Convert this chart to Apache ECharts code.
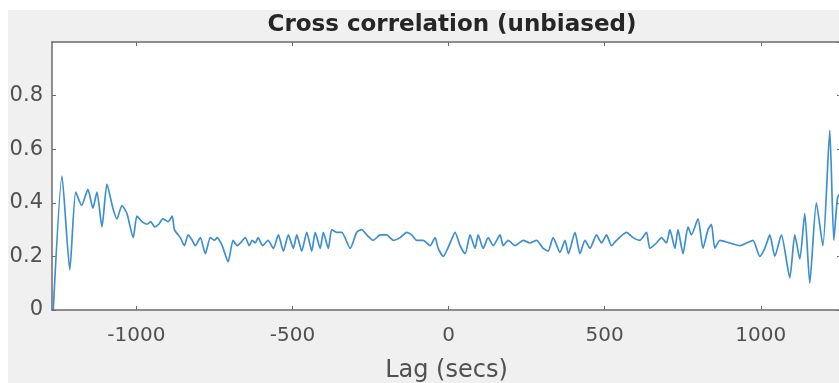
<!DOCTYPE html>
<html>
<head>
<meta charset="utf-8">
<script src="https://cdn.jsdelivr.net/npm/echarts@6/dist/echarts.min.js"></script>
<style>
  html, body { margin: 0; padding: 0; background: #ffffff; }
  #chart { width: 839px; height: 383px; }
</style>
</head>
<body>
<div id="chart"></div>
<script>
// Lag values (seconds) and the unbiased cross-correlation estimate at each lag
const lagSecs = [
  -1266, -1238, -1213, -1194, -1175, -1155, -1139, -1126, -1110, -1094,
  -1075, -1062, -1046, -1030, -1010, -998, -982, -966, -954, -941,
  -928, -915, -898, -885, -878, -859, -846, -834, -821, -811,
  -795, -779, -763, -750, -741, -725, -706, -690, -677, -667,
  -651, -638, -629, -619, -610, -595, -578, -561, -545, -529,
  -513, -497, -486, -470, -454, -438, -427, -411, -401, -385,
  -374, -358, -342, -315, -294, -278, -262, -241, -219, -198,
  -177, -155, -134, -118, -102, -81, -59, -43, -33, -17,
  5, 21, 37, 53, 69, 85, 95, 111, 127, 143,
  165, 175, 191, 213, 239, 261, 282, 303, 319, 335,
  357, 373, 384, 405, 421, 437, 453, 474, 490, 506,
  522, 538, 570, 591, 613, 634, 645, 666, 682, 698,
  709, 725, 735, 751, 767, 778, 799, 815, 831, 842,
  853, 869, 901, 933, 954, 975, 997, 1013, 1029, 1045,
  1066, 1093, 1109, 1125, 1141, 1157, 1178, 1199, 1221, 1234,
  1246, 1257
];
const xcorrValues = [
  0.00, 0.50, 0.15, 0.44, 0.39, 0.45, 0.38, 0.44, 0.31, 0.47,
  0.38, 0.34, 0.39, 0.36, 0.27, 0.35, 0.33, 0.32, 0.33, 0.31,
  0.32, 0.34, 0.33, 0.35, 0.30, 0.27, 0.24, 0.28, 0.26, 0.24,
  0.27, 0.21, 0.27, 0.26, 0.27, 0.24, 0.18, 0.26, 0.24, 0.25,
  0.27, 0.24, 0.26, 0.25, 0.27, 0.24, 0.26, 0.23, 0.28, 0.22,
  0.28, 0.23, 0.28, 0.22, 0.29, 0.22, 0.29, 0.23, 0.29, 0.23,
  0.30, 0.29, 0.29, 0.23, 0.29, 0.30, 0.28, 0.26, 0.28, 0.28,
  0.26, 0.27, 0.29, 0.28, 0.26, 0.26, 0.24, 0.27, 0.23, 0.20,
  0.25, 0.29, 0.24, 0.21, 0.28, 0.23, 0.28, 0.23, 0.27, 0.24,
  0.28, 0.24, 0.26, 0.24, 0.26, 0.25, 0.26, 0.23, 0.22, 0.27,
  0.215, 0.26, 0.21, 0.29, 0.21, 0.26, 0.23, 0.28, 0.25, 0.28,
  0.24, 0.26, 0.29, 0.27, 0.26, 0.29, 0.23, 0.25, 0.27, 0.25,
  0.30, 0.23, 0.30, 0.21, 0.31, 0.28, 0.34, 0.23, 0.30, 0.32,
  0.23, 0.26, 0.25, 0.24, 0.25, 0.26, 0.20, 0.23, 0.28, 0.20,
  0.28, 0.12, 0.28, 0.19, 0.36, 0.10, 0.40, 0.24, 0.67, 0.26,
  0.42, 0.44
];
const xTickValues = [-1000, -500, 0, 500, 1000];
const yTickLabels = ['0', '0.2', '0.4', '0.6', '0.8'];

const seriesData = lagSecs.map((lag, i) => [lag, xcorrValues[i]]);

const axisGrey = '#6b6b6b';
const textGrey = '#505050';
const font = 'DejaVu Sans';
const xMin = -1270, xMax = 1257;

const boxLine = { onZero: false, lineStyle: { color: axisGrey, width: 1.5 } };
const boxTick = { inside: true, length: 4, lineStyle: { color: axisGrey } };

const chart = echarts.init(document.getElementById('chart'), null, { renderer: 'canvas' });
chart.setOption({
  backgroundColor: '#f0f0f0',
  animation: false,
  graphic: [
    { type: 'rect', shape: { x: 0, y: 0, width: 839, height: 10 }, style: { fill: '#ffffff' }, z: -1 },
    { type: 'rect', shape: { x: 0, y: 0, width: 8, height: 383 }, style: { fill: '#ffffff' }, z: -1 }
  ],
  title: {
    text: 'Cross correlation (unbiased)',
    left: 447,
    textAlign: 'center',
    top: 9,
    textStyle: { fontFamily: font, fontWeight: 'bold', fontSize: 23, color: '#262626' }
  },
  grid: {
    left: 52, right: -2, top: 42, bottom: 73,
    outerBoundsMode: 'none',
    containLabel: false,
    show: true, backgroundColor: '#ffffff', borderWidth: 0
  },
  xAxis: [
    {
      type: 'value', min: xMin, max: xMax, position: 'bottom',
      name: 'Lag (secs)', nameLocation: 'middle', nameGap: 49,
      nameTextStyle: { fontFamily: font, fontSize: 24, color: textGrey },
      axisLine: boxLine,
      axisTick: Object.assign({ customValues: xTickValues }, boxTick),
      axisLabel: {
        customValues: xTickValues, margin: 16, fontFamily: font, fontSize: 20, color: textGrey,
        formatter: v => String(v)
      },
      splitLine: { show: false }
    },
    {
      type: 'value', min: xMin, max: xMax, position: 'top',
      axisLine: boxLine,
      axisTick: Object.assign({ customValues: xTickValues }, boxTick),
      axisLabel: { show: false },
      splitLine: { show: false }
    }
  ],
  yAxis: [
    {
      type: 'value', min: 0, max: 1, interval: 0.2, position: 'left',
      axisLine: Object.assign({ show: true }, boxLine),
      axisTick: Object.assign({ show: true }, boxTick),
      axisLabel: {
        showMaxLabel: false, margin: 9, fontFamily: font, fontSize: 21, color: textGrey,
        verticalAlign: 'middle',
        formatter: v => yTickLabels[Math.round(v / 0.2)] || ''
      },
      splitLine: { show: false }
    },
    {
      type: 'value', min: 0, max: 1, interval: 0.2, position: 'right',
      axisLine: Object.assign({ show: true }, boxLine),
      axisTick: Object.assign({ show: true }, boxTick),
      axisLabel: { show: false },
      splitLine: { show: false }
    }
  ],
  series: [{
    type: 'line',
    data: seriesData,
    showSymbol: false,
    smooth: 0.2,
    clip: true,
    lineStyle: { color: '#3d8fd1', width: 1.7 }
  }]
});
</script>
</body>
</html>
